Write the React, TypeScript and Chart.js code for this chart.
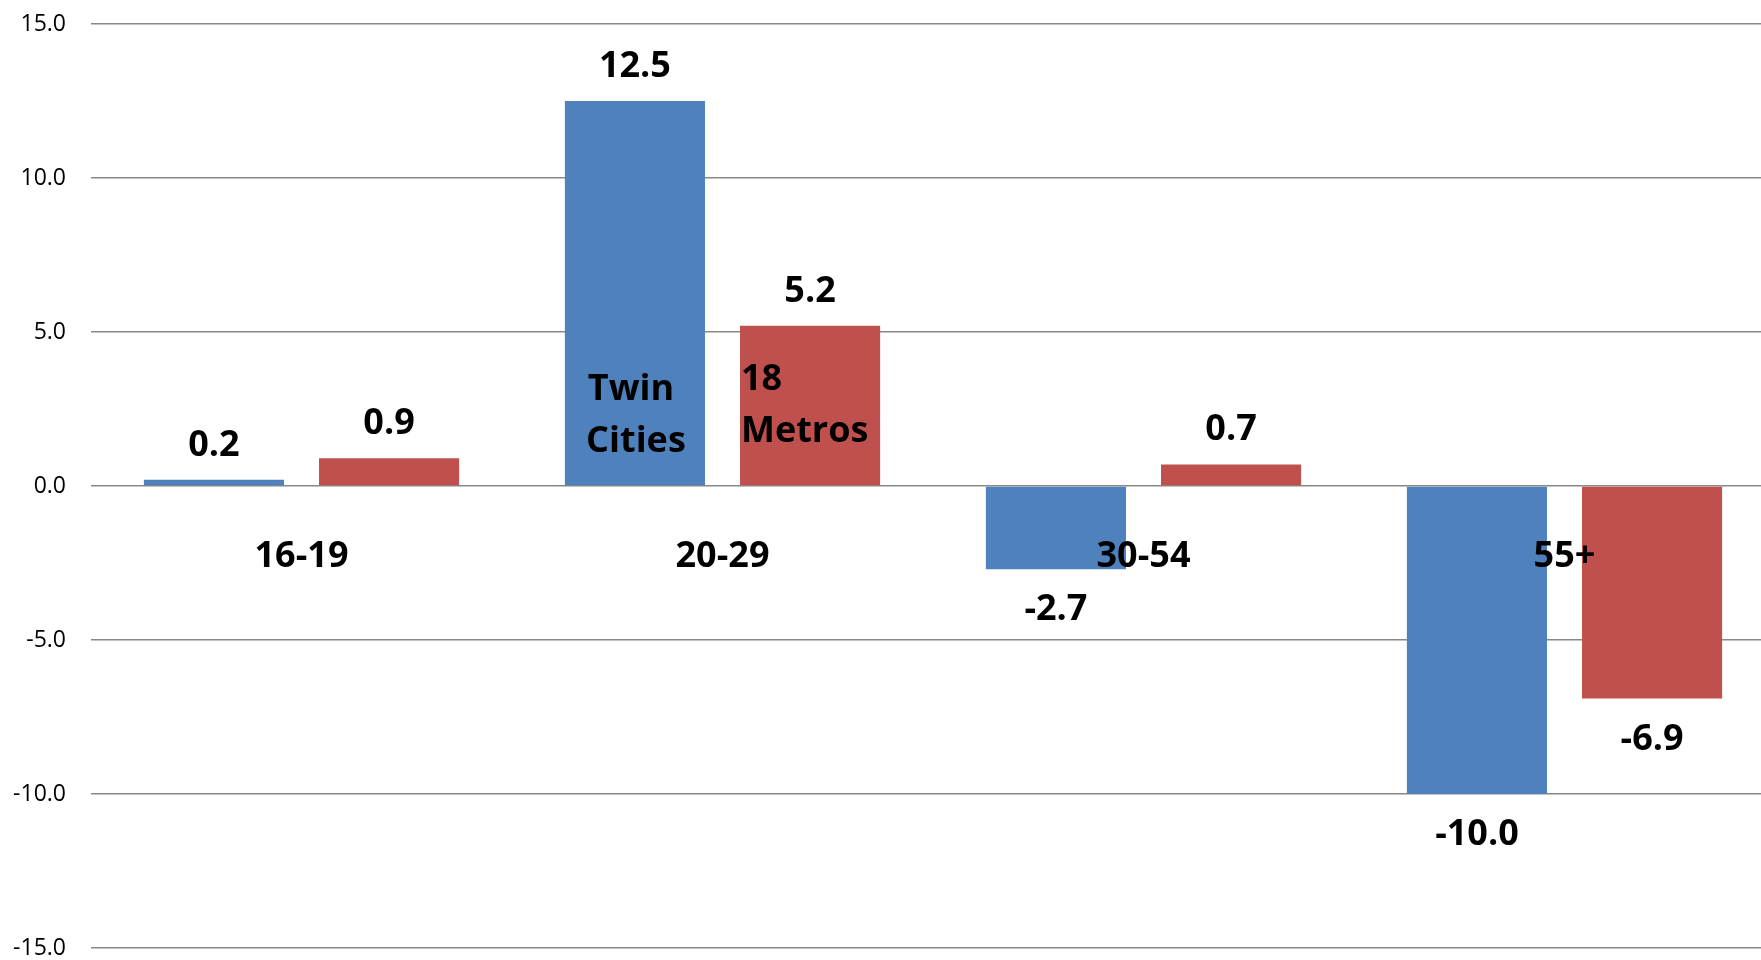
import React, { useEffect, useRef } from "react";
import { Chart, registerables } from "chart.js";

Chart.register(...registerables);

const categories = ["16-19", "20-29", "30-54", "55+"];
const twinCities = [0.2, 12.5, -2.7, -10.0];
const metros18 = [0.9, 5.2, 0.7, -6.9];
const seriesNames = ["Twin Cities", "18 Metros"];
const yMin = -15;
const yMax = 15;
const yStep = 5;

const FONT = "'Open Sans', 'Liberation Sans', sans-serif";

const labelPlugin = {
  id: "labelPlugin",
  afterDatasetsDraw(chart: any) {
    const ctx = chart.ctx;
    const yScale = chart.scales.y;
    const y0 = yScale.getPixelForValue(0);
    ctx.save();
    ctx.fillStyle = "#000";
    ctx.font = `bold 36px ${FONT}`;
    ctx.textAlign = "center";
    ctx.textBaseline = "alphabetic";
    chart.data.datasets.forEach((ds: any, di: number) => {
      const meta = chart.getDatasetMeta(di);
      meta.data.forEach((bar: any, i: number) => {
        const v = ds.data[i];
        const txt = v.toFixed(1);
        if (v >= 0) {
          ctx.fillText(txt, bar.x, bar.y - 24);
        } else {
          ctx.fillText(txt, bar.x, bar.y + 51);
        }
      });
    });
    const m0 = chart.getDatasetMeta(0);
    const m1 = chart.getDatasetMeta(1);
    categories.forEach((c, i) => {
      const cx = (m0.data[i].x + m1.data[i].x) / 2;
      ctx.fillText(c, cx, y0 + 81);
    });
    const b0 = m0.data[1];
    const b1 = m1.data[1];
    const w0 = seriesNames[0].split(" ");
    ctx.textAlign = "center";
    ctx.fillText(w0[0], b0.x - 4, y0 - 86);
    ctx.fillText(w0[1], b0.x + 1, y0 - 34);
    const w1 = seriesNames[1].split(" ");
    ctx.textAlign = "left";
    const left1 = b1.x - b1.width / 2 + 1;
    ctx.fillText(w1[0], left1, y0 - 96);
    ctx.fillText(w1[1], left1, y0 - 44);
    ctx.restore();
  },
};

export default function App() {
  const ref = useRef<HTMLCanvasElement | null>(null);
  useEffect(() => {
    if (!ref.current) return;
    const chart = new Chart(ref.current, {
      type: "bar",
      data: {
        labels: categories,
        datasets: [
          {
            label: seriesNames[0],
            data: twinCities,
            backgroundColor: "#4F81BD",
            categoryPercentage: 0.832,
            barPercentage: 0.8,
          },
          {
            label: seriesNames[1],
            data: metros18,
            backgroundColor: "#C0504D",
            categoryPercentage: 0.832,
            barPercentage: 0.8,
          },
        ],
      },
      options: {
        animation: false,
        responsive: false,
        devicePixelRatio: 1,
        layout: { padding: { top: 24, bottom: 12, left: 0, right: 0 } },
        plugins: {
          legend: { display: false },
          tooltip: { enabled: false },
          title: { display: false },
        },
        scales: {
          x: {
            display: false,
          },
          y: {
            min: yMin,
            max: yMax,
            border: { display: false },
            grid: {
              color: "#888888",
              lineWidth: 1.6,
              drawTicks: false,
            },
            ticks: {
              stepSize: yStep,
              padding: 25,
              color: "#000",
              font: { family: FONT, size: 23 },
              callback: (v: any) => Number(v).toFixed(1),
            },
            afterFit: (scale: any) => {
              scale.width = 91;
              scale.paddingTop = 0;
              scale.paddingBottom = 0;
            },
          },
        },
      },
      plugins: [labelPlugin],
    });
    return () => chart.destroy();
  }, []);
  return (
    <div
      style={{
        position: "fixed",
        left: 0,
        top: 0,
        width: 1761,
        height: 960,
        overflow: "hidden",
        background: "#fff",
      }}
    >
      <canvas ref={ref} width={1775} height={960} style={{ display: "block" }} />
    </div>
  );
}
